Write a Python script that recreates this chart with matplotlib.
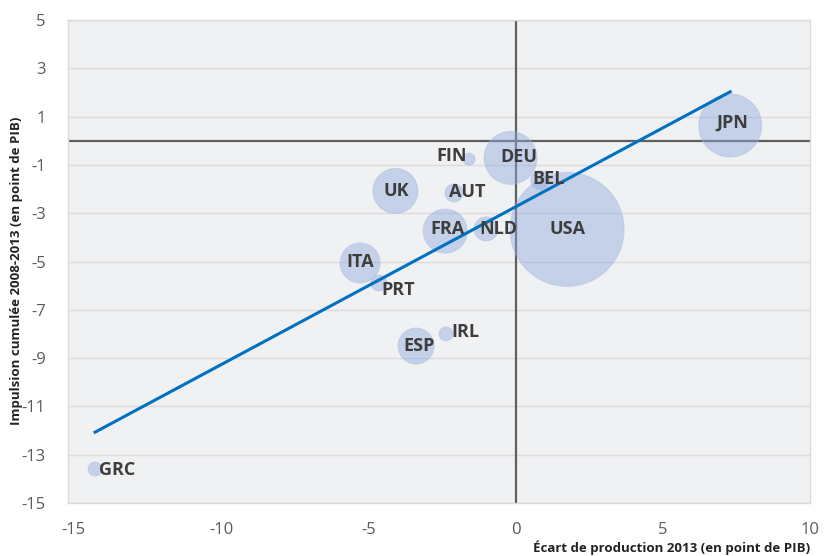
import numpy as np
import matplotlib.pyplot as plt

# Données
pays = ["GRC", "JPN", "USA", "DEU", "FIN", "BEL", "UK", "AUT", "FRA", "NLD", "ITA", "PRT", "ESP", "IRL"]
ecart_2013 = [-14.28, 7.29, 1.75, -0.17, -1.58, 0.83, -4.08, -2.09, -2.39, -1.00, -5.28, -4.64, -3.38, -2.36]
impulsion = [-13.59, 0.63, -3.67, -0.71, -0.76, -1.63, -2.08, -2.16, -3.74, -3.65, -5.06, -5.89, -8.50, -8.00]
taille = [0.25, 5.1, 16.7, 3.6, 0.19, 0.45, 2.6, 0.42, 2.5, 0.74, 2.06, 0.33, 1.66, 0.25]

xticks = [-15, -10, -5, 0, 5, 10]
yticks = list(range(-15, 6, 2))

# décalage des étiquettes (pixels)
decal = {"GRC": (22, -1), "JPN": (2, 3), "USA": (0, 0), "DEU": (8, 1), "FIN": (-17, 3),
         "BEL": (9, 1), "UK": (1, 0), "AUT": (13, 1), "FRA": (2, 2), "NLD": (12, 0),
         "ITA": (0, 1), "PRT": (19, -7), "ESP": (3, 0), "IRL": (19, 2)}

plt.rcParams["font.family"] = ["Open Sans", "DejaVu Sans"]
plt.rcParams["axes.unicode_minus"] = False

fig = plt.figure(figsize=(8.26, 5.56), dpi=100)
ax = fig.add_axes([68 / 826, 53 / 556, 742 / 826, 483 / 556])
ax.set_facecolor("#f0f1f3")

x = np.array(ecart_2013)
y = np.array(impulsion)
r_px = 13.95 * np.sqrt(np.array(taille))
s = (2 * r_px * 72 / 100) ** 2

ax.scatter(x, y, s=s, color="#8faadc", alpha=0.45, edgecolor="#a9bde2", linewidth=0.8, zorder=3)

# droite de tendance (MCO)
a, b = np.polyfit(x, y, 1)
xl = np.array([x.min(), x.max()])
ax.plot(xl, a * xl + b, color="#0070c0", linewidth=2.2, zorder=4)

ax.axhline(0, color="#5f5f5f", linewidth=1.6, zorder=2)
ax.axvline(0, color="#5f5f5f", linewidth=1.6, zorder=2)

for p, xi, yi in zip(pays, x, y):
    dx, dy = decal[p]
    ax.annotate(p, (xi, yi), xytext=(dx, dy), textcoords="offset pixels",
                ha="center", va="center", fontsize=13, fontweight="bold",
                color="#3d3d3d", zorder=5)

ax.set_xlim(-15.2, 10)
ax.set_ylim(-15, 5)
ax.set_xticks(xticks)
ax.set_yticks(yticks)
ax.tick_params(length=0, labelsize=12, labelcolor="#5a5a5a")
ax.tick_params(axis="x", pad=14)
ax.tick_params(axis="y", pad=16)
ax.grid(axis="y", color="#dcdcdc", linewidth=1)
ax.set_axisbelow(True)
for sp in ax.spines.values():
    sp.set_color("#dadada")
    sp.set_linewidth(1)

ax.set_xlabel("Écart de production 2013 (en point de PIB)", fontsize=9.5, fontweight="bold",
              color="#222222", ha="right")
ax.xaxis.set_label_coords(1.0, -0.077)
ax.set_ylabel("Impulsion cumulée 2008-2013 (en point de PIB)", fontsize=9.5, fontweight="bold",
              color="#222222")
ax.yaxis.set_label_coords(-0.061, 0.48)

fig.savefig("out.png", dpi=100)
